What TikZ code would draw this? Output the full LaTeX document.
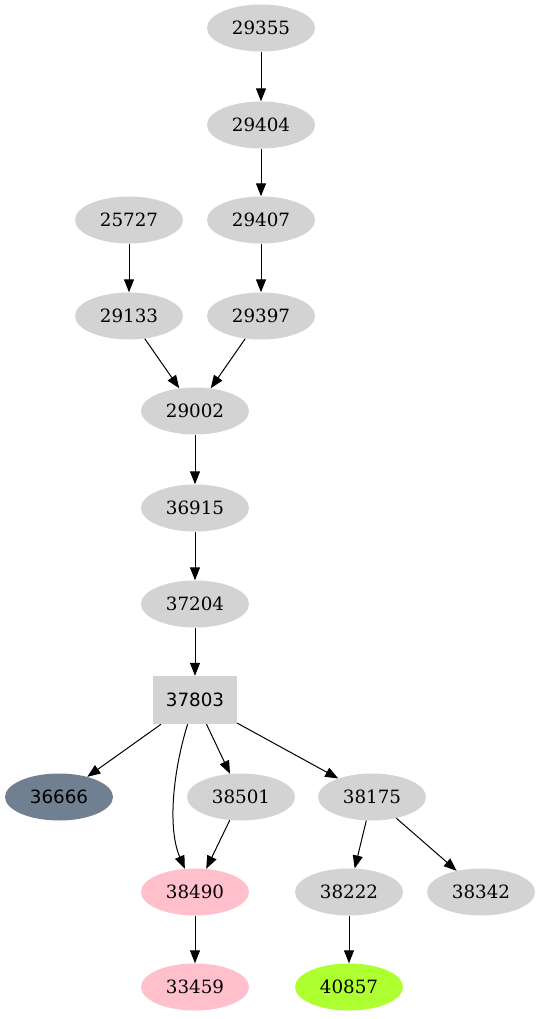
\documentclass[tikz,border=0pt]{standalone}
\usepackage{fontspec}
\setmainfont{DejaVu Serif}
\newfontfamily\dvsans{DejaVu Sans}
\usetikzlibrary{shapes.geometric,arrows.meta}
\definecolor{ngray}{HTML}{D3D3D3}
\definecolor{slate}{HTML}{708090}
\definecolor{npink}{HTML}{FFC0CB}
\definecolor{ngreen}{HTML}{ADFF2F}
\tikzset{
  nd/.style={ellipse, fill=ngray, minimum width=108pt, minimum height=47pt, inner sep=0pt, font=\fontsize{18.3}{20}\selectfont},
  bx/.style={rectangle, fill=ngray, minimum width=84pt, minimum height=48pt, inner sep=0pt, font=\dvsans\fontsize{18.3}{20}\selectfont},
  ar/.style={draw=black, line width=1pt, -{Triangle[length=13pt,width=10pt]}}
}
\begin{document}
\begin{tikzpicture}[x=1pt,y=-1pt]
\useasboundingbox (0,0) rectangle (541,1019);
\node[nd] (a29355) at (261,28) {29355};
\node[nd] (a29404) at (261,125) {29404};
\node[nd] (a25727) at (129,220) {25727};
\node[nd] (a29407) at (261,220) {29407};
\node[nd] (a29133) at (129,316) {29133};
\node[nd] (a29397) at (261,316) {29397};
\node[nd] (a29002) at (195,411) {29002};
\node[nd] (a36915) at (195,508) {36915};
\node[nd] (a37204) at (195,604) {37204};
\node[bx] (a37803) at (195,700) {37803};
\node[nd, fill=slate, font=\dvsans\fontsize{18.3}{20}\selectfont] (a36666) at (59,797) {36666};
\node[nd] (a38501) at (241,797) {38501};
\node[nd] (a38175) at (372,797) {38175};
\node[nd, fill=npink] (a38490) at (195,892) {38490};
\node[nd] (a38222) at (349,892) {38222};
\node[nd] (a38342) at (481,892) {38342};
\node[nd, fill=npink] (a33459) at (195,987) {33459};
\node[nd, fill=ngreen] (a40857) at (349,987) {40857};
\draw[ar] (a29355) -- (a29404);
\draw[ar] (a29404) -- (a29407);
\draw[ar] (a29407) -- (a29397);
\draw[ar] (a25727) -- (a29133);
\draw[ar] (a29133) -- (a29002);
\draw[ar] (a29397) -- (a29002);
\draw[ar] (a29002) -- (a36915);
\draw[ar] (a36915) -- (a37204);
\draw[ar] (a37204) -- (a37803);
\draw[ar] (a37803) -- (a36666);
\draw[ar] (a37803) .. controls (172,775) and (168,830) .. (a38490);
\draw[ar] (a37803) -- (a38501);
\draw[ar] (a37803) -- (a38175);
\draw[ar] (a38501) -- (a38490);
\draw[ar] (a38490) -- (a33459);
\draw[ar] (a38175) -- (a38222);
\draw[ar] (a38175) -- (a38342);
\draw[ar] (a38222) -- (a40857);
\end{tikzpicture}
\end{document}
